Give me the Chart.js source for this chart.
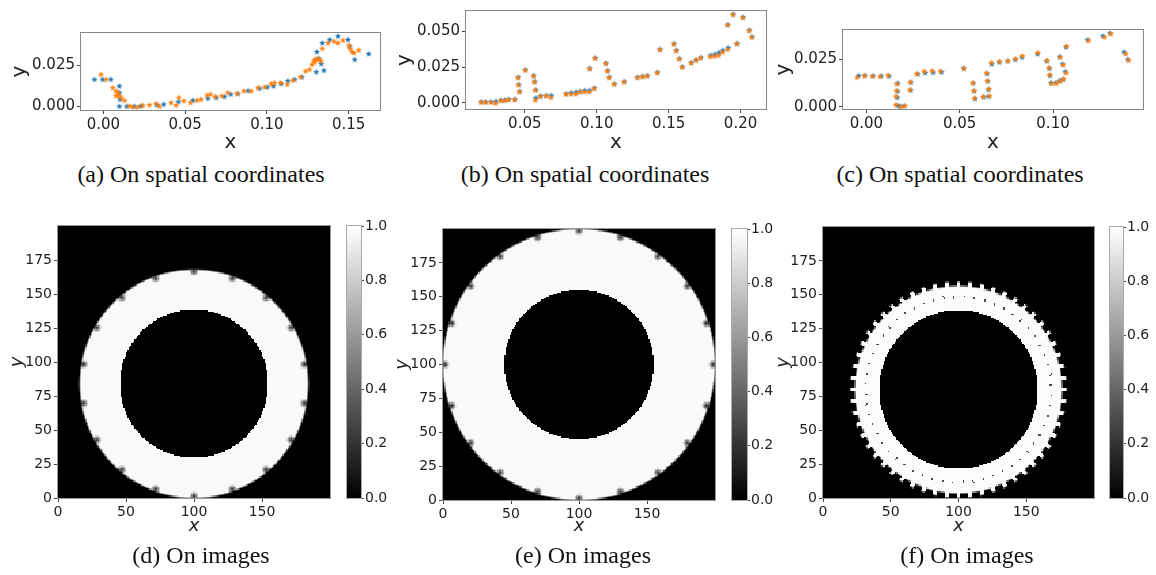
<!DOCTYPE html>
<html>
<head>
<meta charset="utf-8">
<script src="https://cdn.jsdelivr.net/npm/chart.js@4.4.1/dist/chart.umd.min.js"></script>
<style>
  body { margin: 0; background: #fff; width: 1156px; height: 575px; position: relative; overflow: hidden; }
  canvas { position: absolute; }
  .cap { position: absolute; width: 320px; text-align: center; font-family: 'Liberation Serif', 'Times New Roman', serif; font-size: 24px; line-height: 28px; color: #111; white-space: nowrap; }
</style>
</head>
<body>
<canvas id="scatA" width="385" height="160" style="left:0;top:0"></canvas>
<canvas id="scatB" width="385" height="160" style="left:385px;top:0"></canvas>
<canvas id="scatC" width="386" height="160" style="left:770px;top:0"></canvas>

<canvas id="imgD" width="340" height="330" style="left:0;top:215px"></canvas>
<canvas id="barD" width="60" height="330" style="left:340px;top:215px"></canvas>
<canvas id="imgE" width="340" height="330" style="left:390px;top:215px"></canvas>
<canvas id="barE" width="60" height="330" style="left:725px;top:215px"></canvas>
<canvas id="imgF" width="334" height="330" style="left:770px;top:215px"></canvas>
<canvas id="barF" width="56" height="330" style="left:1100px;top:215px"></canvas>

<div class="cap" style="left:41px;top:160px">(a) On spatial coordinates</div>
<div class="cap" style="left:425px;top:160px">(b) On spatial coordinates</div>
<div class="cap" style="left:800px;top:160px">(c) On spatial coordinates</div>
<div class="cap" style="left:41px;top:541px">(d) On images</div>
<div class="cap" style="left:423px;top:541px">(e) On images</div>
<div class="cap" style="left:807px;top:541px">(f) On images</div>

<script>
// ---- trajectory samples (x, y) ----
const aBlueX = [-0.0055, -0.0005, 0.0045, 0.0098, 0.0098, 0.0102, 0.0098, 0.0143, 0.019, 0.023, 0.0328, 0.0369, 0.0459, 0.0547, 0.0639, 0.069, 0.0741, 0.0778, 0.0822, 0.0885, 0.0955, 0.1002, 0.104, 0.1088, 0.1128, 0.117, 0.1214, 0.1302, 0.1306, 0.1339, 0.1317, 0.1333, 0.1349, 0.1384, 0.1435, 0.1496, 0.1506, 0.1537, 0.1623];
const aBlueY = [0.0163, 0.0163, 0.0163, 0.0123, 0.0083, 0.0042, 0.0, 0.0, 0.0, 0.0002, 0.0008, 0.0012, 0.0028, 0.0036, 0.0048, 0.0053, 0.0059, 0.0073, 0.0077, 0.0095, 0.0109, 0.0117, 0.0123, 0.0137, 0.0154, 0.0163, 0.0178, 0.0208, 0.0331, 0.0385, 0.029, 0.0258, 0.0218, 0.0405, 0.0426, 0.0405, 0.0365, 0.0284, 0.0319];
const aOrangeX = [-0.0015, 0.0016, 0.0057, 0.0077, 0.0088, 0.0077, 0.0098, 0.0108, 0.0129, 0.0159, 0.0179, 0.021, 0.0241, 0.0282, 0.0322, 0.0343, 0.0414, 0.0445, 0.0461, 0.0492, 0.0533, 0.0573, 0.0598, 0.0634, 0.0655, 0.0683, 0.0724, 0.0761, 0.0818, 0.0859, 0.0904, 0.0945, 0.0986, 0.1026, 0.1047, 0.1084, 0.1124, 0.1159, 0.1206, 0.1237, 0.1261, 0.1276, 0.1288, 0.1296, 0.1308, 0.1323, 0.1292, 0.1329, 0.1339, 0.1374, 0.141, 0.1435, 0.1465, 0.1502, 0.151, 0.152, 0.1533, 0.1562];
const aOrangeY = [0.0194, 0.0163, 0.0113, 0.0093, 0.0083, 0.0063, 0.0063, 0.0053, 0.0036, 0.0002, -0.0004, -0.0004, 0.0006, 0.0008, 0.0016, 0.0, 0.0022, 0.0006, 0.0053, 0.0033, 0.0022, 0.0036, 0.0042, 0.0067, 0.0073, 0.0059, 0.0063, 0.0083, 0.0077, 0.0093, 0.0093, 0.0113, 0.0117, 0.0137, 0.0143, 0.0143, 0.0133, 0.0157, 0.0178, 0.0214, 0.0224, 0.0254, 0.0278, 0.0284, 0.029, 0.0284, 0.0268, 0.0274, 0.0351, 0.0385, 0.0395, 0.0385, 0.0401, 0.0371, 0.0351, 0.0331, 0.0325, 0.0341];

const bBlueX = [0.0198, 0.0228, 0.0265, 0.0299, 0.0334, 0.0362, 0.0389, 0.0431, 0.0454, 0.0458, 0.0465, 0.0504, 0.0562, 0.0569, 0.0576, 0.0576, 0.0610, 0.0650, 0.0684, 0.0788, 0.0823, 0.0857, 0.0885, 0.0917, 0.0950, 0.0984, 0.0952, 0.0990, 0.1065, 0.1076, 0.1088, 0.1123, 0.1192, 0.1284, 0.1319, 0.1353, 0.1422, 0.1441, 0.1538, 0.1554, 0.1575, 0.1596, 0.1658, 0.1692, 0.1725, 0.1792, 0.1822, 0.1850, 0.1877, 0.1914, 0.1976, 0.1912, 0.1949, 0.2018, 0.2062, 0.2080];
const bBlueY = [0.0006, 0.0006, 0.0006, 0.0009, 0.0017, 0.0019, 0.0024, 0.0024, 0.0178, 0.0127, 0.0079, 0.0230, 0.0189, 0.0148, 0.0090, 0.0033, 0.0047, 0.0051, 0.0051, 0.0063, 0.0070, 0.0074, 0.0079, 0.0086, 0.0086, 0.0102, 0.0240, 0.0313, 0.0276, 0.0224, 0.0178, 0.0132, 0.0148, 0.0178, 0.0184, 0.0189, 0.0212, 0.0373, 0.0412, 0.0366, 0.0308, 0.0251, 0.0281, 0.0299, 0.0315, 0.0331, 0.0338, 0.0350, 0.0366, 0.0384, 0.0414, 0.0545, 0.0618, 0.0597, 0.0506, 0.0460];
const bOrangeX = [0.0195, 0.0225, 0.0262, 0.0296, 0.0331, 0.0359, 0.0386, 0.0428, 0.0451, 0.0455, 0.0462, 0.0501, 0.0559, 0.0566, 0.0573, 0.0573, 0.0607, 0.0647, 0.0681, 0.0785, 0.0820, 0.0854, 0.0882, 0.0914, 0.0947, 0.0981, 0.0949, 0.0987, 0.1062, 0.1073, 0.1085, 0.1120, 0.1189, 0.1281, 0.1316, 0.1350, 0.1419, 0.1438, 0.1535, 0.1551, 0.1572, 0.1593, 0.1655, 0.1689, 0.1722, 0.1789, 0.1819, 0.1847, 0.1874, 0.1911, 0.1973, 0.1909, 0.1946, 0.2015, 0.2059, 0.2077];
const bOrangeY = [0.0003, 0.0003, 0.0003, -0.0004, 0.0014, 0.0016, 0.0021, 0.0021, 0.0175, 0.0124, 0.0076, 0.0227, 0.0186, 0.0145, 0.0087, 0.0018, 0.0044, 0.0048, 0.0036, 0.0060, 0.0060, 0.0061, 0.0076, 0.0075, 0.0076, 0.0099, 0.0237, 0.0310, 0.0273, 0.0221, 0.0175, 0.0129, 0.0145, 0.0175, 0.0181, 0.0186, 0.0209, 0.0370, 0.0409, 0.0363, 0.0305, 0.0248, 0.0278, 0.0296, 0.0312, 0.0322, 0.0325, 0.0330, 0.0352, 0.0372, 0.0411, 0.0542, 0.0615, 0.0594, 0.0503, 0.0457];

const cBlueX = [-0.0041, -0.0007, 0.0037, 0.0080, 0.0122, 0.0168, 0.0167, 0.0166, 0.0167, 0.0181, 0.0203, 0.0238, 0.0237, 0.0275, 0.0315, 0.0358, 0.0403, 0.0521, 0.0573, 0.0578, 0.0582, 0.0628, 0.0647, 0.0651, 0.0654, 0.0654, 0.0672, 0.0712, 0.0757, 0.0798, 0.0834, 0.0917, 0.0966, 0.0981, 0.0984, 0.0989, 0.1015, 0.1036, 0.1054, 0.1036, 0.1051, 0.1066, 0.1069, 0.1185, 0.1267, 0.1305, 0.1381, 0.1401];
const cBlueY = [0.0163, 0.0164, 0.0162, 0.0161, 0.0161, 0.0123, 0.0081, 0.0048, 0.0006, 0.0002, 0.0004, 0.0128, 0.0087, 0.0172, 0.0178, 0.0180, 0.0182, 0.0202, 0.0124, 0.0082, 0.0042, 0.0051, 0.0174, 0.0134, 0.0090, 0.0054, 0.0224, 0.0234, 0.0240, 0.0248, 0.0260, 0.0277, 0.0240, 0.0201, 0.0164, 0.0125, 0.0126, 0.0137, 0.0143, 0.0263, 0.0224, 0.0184, 0.0314, 0.0352, 0.0372, 0.0387, 0.0287, 0.0248];
const cOrangeX = [-0.0050, -0.0011, 0.0031, 0.0073, 0.0116, 0.0163, 0.0162, 0.0158, 0.0158, 0.0186, 0.0207, 0.0235, 0.0233, 0.0270, 0.0310, 0.0352, 0.0396, 0.0523, 0.0571, 0.0576, 0.0580, 0.0625, 0.0643, 0.0648, 0.0657, 0.0660, 0.0670, 0.0714, 0.0759, 0.0800, 0.0836, 0.0919, 0.0968, 0.0979, 0.0982, 0.0993, 0.1018, 0.1039, 0.1057, 0.1039, 0.1055, 0.1070, 0.1073, 0.1190, 0.1276, 0.1311, 0.1390, 0.1405];
const cOrangeY = [0.0154, 0.0162, 0.0160, 0.0159, 0.0165, 0.0119, 0.0085, 0.0054, 0.0010, 0.0000, 0.0005, 0.0130, 0.0089, 0.0173, 0.0186, 0.0189, 0.0187, 0.0201, 0.0124, 0.0084, 0.0044, 0.0052, 0.0177, 0.0136, 0.0093, 0.0056, 0.0232, 0.0238, 0.0241, 0.0252, 0.0267, 0.0285, 0.0243, 0.0205, 0.0168, 0.0122, 0.0122, 0.0134, 0.0146, 0.0260, 0.0220, 0.0178, 0.0318, 0.0348, 0.0366, 0.0384, 0.0278, 0.0244];

// axis ranges and tick values
const aXRange = [-0.0137, 0.1692], aYRange = [-0.0022, 0.0446];
const bXRange = [0.0091, 0.2177], bYRange = [-0.0043, 0.0641];
const cXRange = [-0.0125, 0.1482], cYRange = [-0.0012, 0.0404];
const aXTicks = [0.00, 0.05, 0.10, 0.15], aYTicks = [0.000, 0.025];
const bXTicks = [0.05, 0.10, 0.15, 0.20], bYTicks = [0.000, 0.025, 0.050];
const cXTicks = [0.00, 0.05, 0.10], cYTicks = [0.000, 0.025];

// ---- reconstructed ring images (200 x 200 grid) ----
const gridSize = 200;
const imgXTicks = [0, 50, 100, 150];
const imgYTicks = [0, 25, 50, 75, 100, 125, 150, 175];
const barTicks = [0.0, 0.2, 0.4, 0.6, 0.8, 1.0];
const ringCx = [100, 100, 100];
const ringCy = [84, 100, 80];
const ringInner = [54.5, 55, 58.5];
const ringOuter = [84, 100, 76.5];
const ringLevel = [0.975, 0.975, 0.985];
const edgeSpots = [18, 20, 0];
const spotPhase = [10, 0, 0];       // degrees
const ringTeeth = [0, 0, 56];
const dotRadius = [0, 0, 68.5];

const blue = '#1f77b4', orange = '#ff7f0e';
const tickColor = '#222';

function starIcon(color) {
  const c = document.createElement('canvas');
  c.width = c.height = 8;
  const g = c.getContext('2d');
  g.fillStyle = color;
  g.beginPath();
  for (let k = 0; k < 10; k++) {
    const r = k % 2 ? 1.4 : 3.3;
    const a = -Math.PI / 2 + k * Math.PI / 5;
    g.lineTo(4 + r * Math.cos(a), 4 + r * Math.sin(a));
  }
  g.closePath();
  g.fill();
  return c;
}
const blueStar = starIcon(blue), orangeStar = starIcon(orange);

const pairs = (xs, ys) => xs.map((x, i) => ({ x, y: ys[i] }));

// box around the plotting area
function framePlugin(color) {
  return {
    id: 'frame',
    afterDraw(chart) {
      const { ctx, chartArea: a } = chart;
      ctx.save();
      ctx.strokeStyle = color;
      ctx.lineWidth = 1;
      ctx.strokeRect(Math.round(a.left) - 0.5, Math.round(a.top) - 0.5,
        Math.round(a.right - a.left) + 1, Math.round(a.bottom - a.top) + 1);
      ctx.restore();
    }
  };
}

function axisOpts(range, ticks, fmt, font, title, fit) {
  return {
    type: 'linear', min: range[0], max: range[1],
    afterBuildTicks: s => { s.ticks = ticks.map(v => ({ value: v })); },
    afterFit: fit,
    ticks: { font, color: tickColor, padding: 2, maxRotation: 0, autoSkip: false, callback: fmt },
    grid: { drawOnChartArea: false, tickLength: 4, color: '#444' },
    border: { display: false },
    title
  };
}

function scatterPanel(id, s, lay) {
  const font = { family: 'DejaVu Sans', size: 15 };
  const titleFont = { family: 'DejaVu Sans', size: 20 };
  new Chart(document.getElementById(id), {
    type: 'scatter',
    data: {
      datasets: [
        { data: pairs(s.ox, s.oy), pointStyle: orangeStar, pointHoverRadius: 0 },
        { data: pairs(s.bx, s.by), pointStyle: blueStar, pointHoverRadius: 0 }
      ]
    },
    options: {
      responsive: false, animation: false, events: [],
      layout: { padding: { left: 0, top: lay.top, right: lay.right, bottom: 0 } },
      plugins: { legend: { display: false }, tooltip: { enabled: false } },
      scales: {
        x: axisOpts(s.xr, s.xt, v => v.toFixed(2), font,
          { display: true, text: 'x', font: titleFont, color: tickColor, padding: { top: 0, bottom: 5 } },
          sc => { sc.height = lay.xh; }),
        y: axisOpts(s.yr, s.yt, v => v.toFixed(3), font,
          { display: true, text: 'y', font: titleFont, color: tickColor, padding: { top: lay.yt, bottom: 0 } },
          sc => { sc.width = lay.yw; })
      }
    },
    plugins: [framePlugin('#888')]
  });
}

scatterPanel('scatA', { bx: aBlueX, by: aBlueY, ox: aOrangeX, oy: aOrangeY, xr: aXRange, yr: aYRange, xt: aXTicks, yt: aYTicks },
  { top: 33, right: 5, xh: 50, yw: 81, yt: 8 });
scatterPanel('scatB', { bx: bBlueX, by: bBlueY, ox: bOrangeX, oy: bOrangeY, xr: bXRange, yr: bYRange, xt: bXTicks, yt: bYTicks },
  { top: 10, right: 3, xh: 51, yw: 81, yt: 8 });
scatterPanel('scatC', { bx: cBlueX, by: cBlueY, ox: cOrangeX, oy: cOrangeY, xr: cXRange, yr: cYRange, xt: cXTicks, yt: cYTicks },
  { top: 30, right: 13, xh: 51, yw: 73, yt: 2 });

// grey level of one cell of ring i
function ringValue(i, x, y) {
  const dx = x - ringCx[i], dy = y - ringCy[i];
  const r = Math.hypot(dx, dy);
  if (r < ringInner[i]) return 0;
  const th = Math.atan2(dy, dx);
  let outer = ringOuter[i];
  if (ringTeeth[i]) {
    const step = 2 * Math.PI / ringTeeth[i];
    const k = Math.round(th / step);
    if (Math.abs(th - k * step) * r < 1.5) outer += 3.2;
  }
  let v = Math.min(1, Math.max(0, (outer - r) / 1.6 + 0.5)) * ringLevel[i];
  if (edgeSpots[i]) {
    const step = 2 * Math.PI / edgeSpots[i];
    const ph = spotPhase[i] * Math.PI / 180;
    const a = ph + Math.round((th - ph) / step) * step;
    const sx = ringCx[i] + (ringOuter[i] - 1.5) * Math.cos(a);
    const sy = ringCy[i] + (ringOuter[i] - 1.5) * Math.sin(a);
    const d = Math.hypot(x - sx, y - sy);
    if (d < 3.5) v *= 0.15 + 0.85 * d / 3.5;
  }
  if (dotRadius[i]) {
    const step = 2 * Math.PI / ringTeeth[i];
    const a = Math.round(th / step) * step + step / 2;
    const d = Math.hypot(x - ringCx[i] - dotRadius[i] * Math.cos(a), y - ringCy[i] - dotRadius[i] * Math.sin(a));
    if (d < 1.0) v = 0.3;
  }
  return v;
}

function ringImage(i) {
  const c = document.createElement('canvas');
  c.width = c.height = gridSize;
  const g = c.getContext('2d');
  const img = g.createImageData(gridSize, gridSize);
  for (let row = 0; row < gridSize; row++) {
    for (let col = 0; col < gridSize; col++) {
      const v = Math.round(255 * ringValue(i, col + 0.5, gridSize - row - 0.5));
      const p = (row * gridSize + col) * 4;
      img.data[p] = img.data[p + 1] = img.data[p + 2] = v;
      img.data[p + 3] = 255;
    }
  }
  g.putImageData(img, 0, 0);
  return c;
}

function imagePanel(id, i, lay) {
  const picture = ringImage(i);
  const font = { family: 'DejaVu Sans', size: 14 };
  const titleFont = { family: 'DejaVu Sans', size: 18, style: 'italic' };
  new Chart(document.getElementById(id), {
    type: 'scatter',
    data: { datasets: [{ data: [] }] },
    options: {
      responsive: false, animation: false, events: [],
      layout: { padding: { left: 0, top: lay.top, right: lay.right, bottom: 0 } },
      plugins: { legend: { display: false }, tooltip: { enabled: false } },
      scales: {
        x: axisOpts([0, gridSize], imgXTicks, v => String(v), font,
          { display: true, text: 'x', font: titleFont, color: tickColor, padding: { top: 0, bottom: 8 } },
          sc => { sc.height = lay.xh; }),
        y: axisOpts([0, gridSize], imgYTicks, v => String(v), font,
          { display: true, text: 'y', font: titleFont, color: tickColor, padding: { top: lay.yt, bottom: 0 } },
          sc => { sc.width = lay.yw; })
      }
    },
    plugins: [{
      id: 'heatImage',
      beforeDatasetsDraw(chart) {
        const { ctx, scales: { x, y } } = chart;
        const x0 = x.getPixelForValue(0), x1 = x.getPixelForValue(gridSize);
        const y0 = y.getPixelForValue(gridSize), y1 = y.getPixelForValue(0);
        ctx.save();
        ctx.imageSmoothingEnabled = false;
        ctx.drawImage(picture, x0, y0, x1 - x0, y1 - y0);
        ctx.restore();
      }
    }, framePlugin('#999')]
  });
}

function colorBar(id, lay) {
  const font = { family: 'DejaVu Sans', size: 14 };
  new Chart(document.getElementById(id), {
    type: 'scatter',
    data: { datasets: [{ data: [] }] },
    options: {
      responsive: false, animation: false, events: [],
      layout: { padding: { left: lay.left, top: lay.top, right: 0, bottom: lay.bottom } },
      plugins: { legend: { display: false }, tooltip: { enabled: false } },
      scales: {
        x: { display: false, min: 0, max: 1 },
        y: {
          position: 'right', min: 0, max: 1,
          afterBuildTicks: s => { s.ticks = barTicks.map(v => ({ value: v })); },
          afterFit: sc => { sc.width = lay.yw; },
          ticks: { font, color: tickColor, padding: 1, callback: v => v.toFixed(1) },
          grid: { drawOnChartArea: false, tickLength: 3, color: '#444' },
          border: { display: false }
        }
      }
    },
    plugins: [{
      id: 'gradient',
      beforeDatasetsDraw(chart) {
        const { ctx, chartArea: a, scales: { y } } = chart;
        const top = y.getPixelForValue(1), bottom = y.getPixelForValue(0);
        const g = ctx.createLinearGradient(0, bottom, 0, top);
        g.addColorStop(0, '#000');
        g.addColorStop(1, '#fff');
        ctx.fillStyle = g;
        ctx.fillRect(a.left, top, a.right - a.left, bottom - top);
      }
    }, framePlugin('#aaa')]
  });
}

imagePanel('imgD', 0, { top: 11, right: 10, xh: 47, yw: 58, yt: 7 });
colorBar('barD', { left: 7, top: 11, bottom: 47, yw: 39 });
imagePanel('imgE', 1, { top: 14, right: 15, xh: 45, yw: 53, yt: 2 });
colorBar('barE', { left: 7, top: 14, bottom: 45, yw: 38 });
imagePanel('imgF', 2, { top: 12, right: 10, xh: 47, yw: 53, yt: 3 });
colorBar('barF', { left: 10, top: 12, bottom: 47, yw: 33 });
</script>
</body>
</html>
